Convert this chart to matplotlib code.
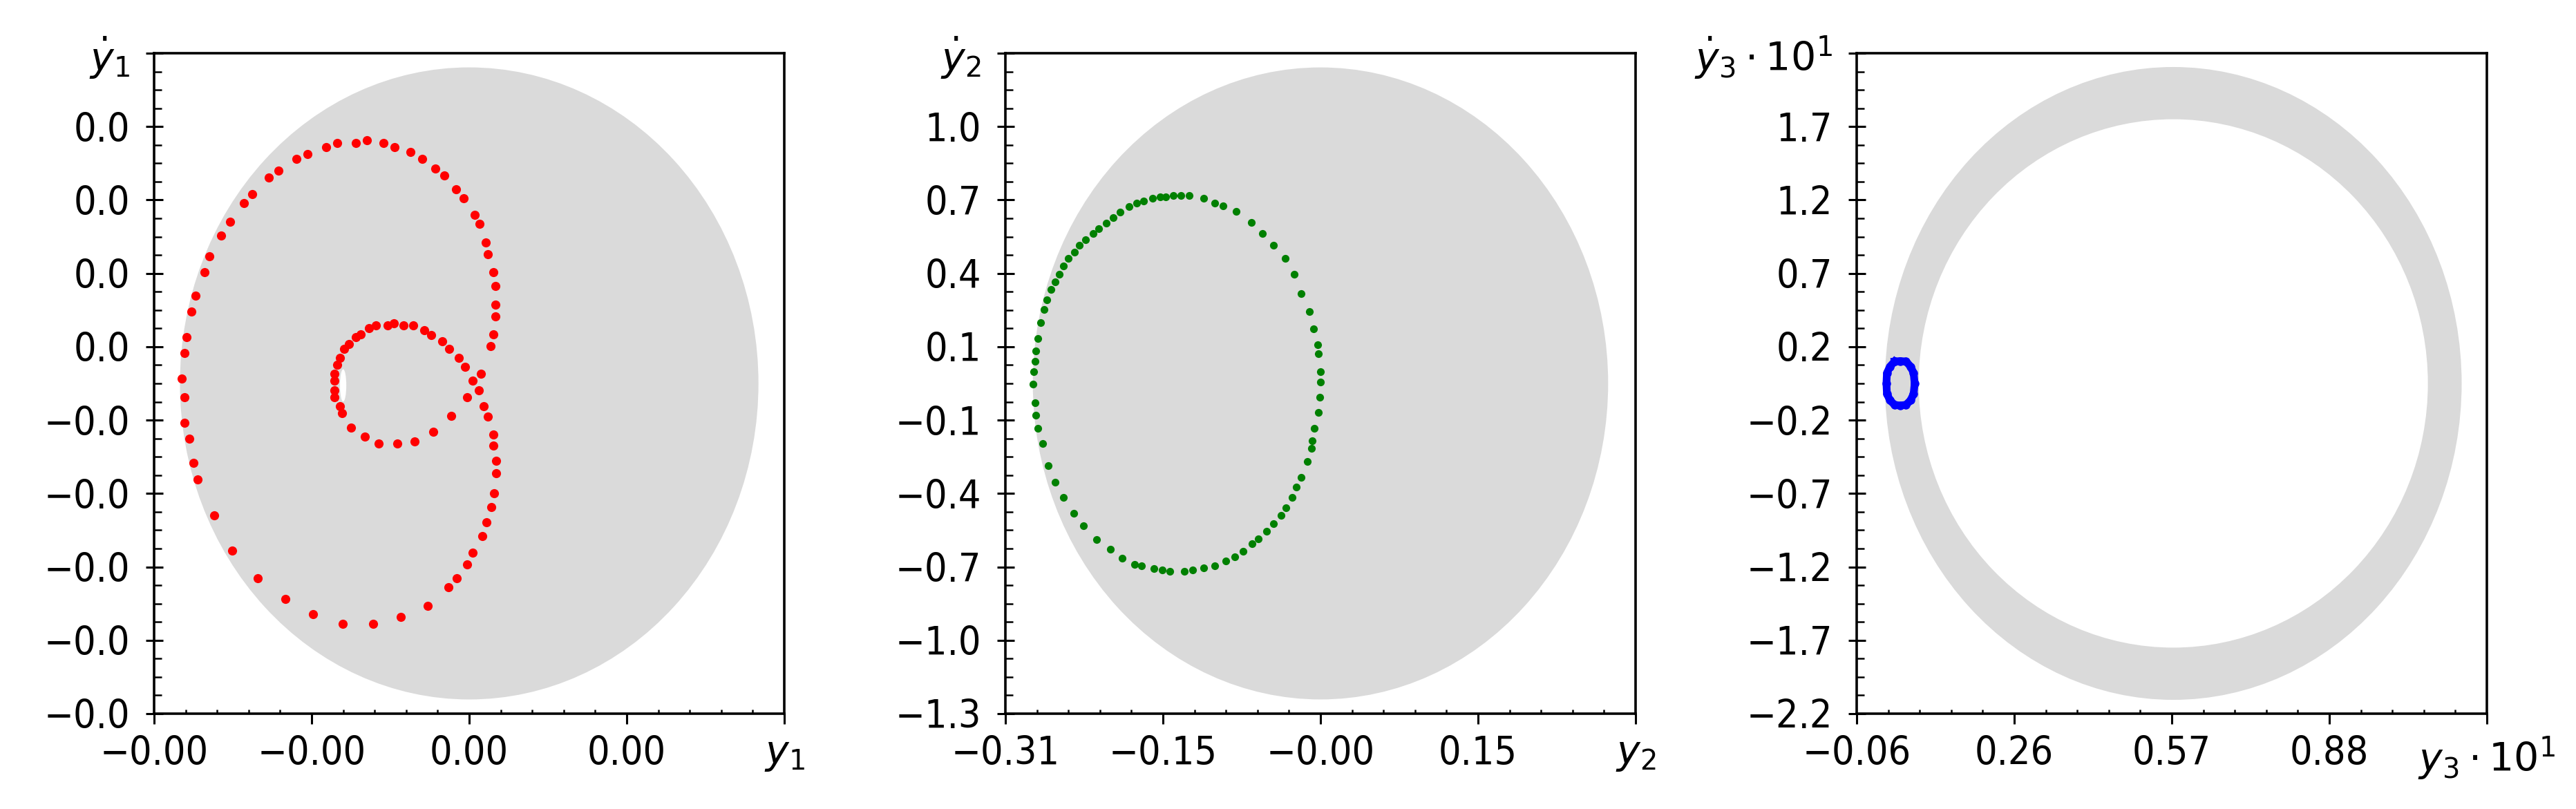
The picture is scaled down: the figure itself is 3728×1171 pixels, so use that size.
import numpy as np
import matplotlib.pyplot as plt
from matplotlib.patches import Ellipse
from matplotlib.ticker import AutoMinorLocator

# ---- panel 1: red trajectory (arbitrary units, axis spans -1..1) ----
red_x = [-0.912, -0.904, -0.904, -0.889, -0.904, -0.897, -0.882, -0.868, -0.839, -0.825,
         -0.788, -0.759, -0.716, -0.688, -0.637, -0.606, -0.549, -0.513, -0.455, -0.418,
         -0.360, -0.324, -0.273, -0.237, -0.187, -0.150, -0.108, -0.078, -0.041, -0.018,
         0.017, 0.032, 0.053, 0.060, 0.076, 0.083, 0.083, 0.083, 0.076, 0.067,
         0.038, 0.010, 0.031, -0.006, 0.047, 0.060, 0.076, 0.076,
         -0.013, -0.034, -0.063, -0.085, -0.120, -0.142, -0.178, -0.208, -0.238, -0.259,
         -0.295, -0.317, -0.345, -0.360, -0.382, -0.397, -0.410, -0.418, -0.427, -0.427,
         -0.427, -0.427, -0.410, -0.403, -0.374, -0.331, -0.288, -0.229, -0.173, -0.113,
         -0.056,
         -0.874, -0.861, -0.809, -0.752, -0.670, -0.583, -0.495, -0.401, -0.304, -0.217,
         -0.132, -0.066, -0.039, -0.006, 0.011, 0.041, 0.054, 0.071, 0.078, 0.085, 0.085]
red_y = [0.015, -0.042, -0.119, -0.167, 0.091, 0.140, 0.217, 0.266, 0.336, 0.385,
         0.448, 0.490, 0.546, 0.574, 0.623, 0.644, 0.679, 0.694, 0.715, 0.728,
         0.728, 0.736, 0.728, 0.715, 0.701, 0.679, 0.651, 0.630, 0.588, 0.560,
         0.511, 0.483, 0.427, 0.392, 0.336, 0.294, 0.238, 0.203, 0.148, 0.112,
         0.029, 0.008, -0.021, -0.042, -0.069, -0.100, -0.154, -0.188,
         0.050, 0.077, 0.105, 0.127, 0.147, 0.161, 0.175, 0.175, 0.183, 0.175,
         0.175, 0.168, 0.148, 0.140, 0.119, 0.105, 0.077, 0.056, 0.029, 0.008,
         -0.020, -0.042, -0.069, -0.091, -0.133, -0.161, -0.182, -0.182, -0.175, -0.147,
         -0.098,
         -0.240, -0.290, -0.400, -0.506, -0.589, -0.653, -0.699, -0.729, -0.729, -0.707,
         -0.673, -0.617, -0.590, -0.548, -0.512, -0.463, -0.421, -0.374, -0.333, -0.273, -0.234]

# ---- panel 2: green trajectory ----
green_x = [-0.145, -0.137, -0.129, -0.115, -0.104, -0.096, -0.083, -0.068, -0.057, -0.046,
           -0.035, -0.026, -0.019, -0.011, -0.007, -0.003, -0.002, 0.000, 0.000, -0.001,
           -0.002, -0.006, -0.008, -0.009, -0.013, -0.019, -0.024, -0.028, -0.034, -0.039,
           -0.046, -0.053, -0.061, -0.067, -0.076, -0.084, -0.093, -0.104, -0.115, -0.126,
           -0.134, -0.148, -0.156, -0.164, -0.176, -0.183, -0.195, -0.207, -0.220, -0.233,
           -0.243, -0.253, -0.261, -0.268, -0.273, -0.278, -0.280, -0.281, -0.283, -0.282,
           -0.281, -0.280, -0.278, -0.275, -0.272, -0.269, -0.265, -0.261, -0.257, -0.253,
           -0.248, -0.242, -0.237, -0.231, -0.224, -0.218, -0.211, -0.204, -0.197, -0.188,
           -0.181, -0.174, -0.165, -0.158, -0.152]
green_y = [0.739, 0.739, 0.739, 0.729, 0.711, 0.699, 0.678, 0.634, 0.589, 0.543,
           0.492, 0.431, 0.354, 0.283, 0.215, 0.152, 0.117, 0.047, 0.006, -0.055,
           -0.115, -0.176, -0.227, -0.257, -0.308, -0.369, -0.409, -0.450, -0.490, -0.520,
           -0.551, -0.581, -0.612, -0.632, -0.662, -0.682, -0.699, -0.717, -0.727, -0.735,
           -0.739, -0.739, -0.735, -0.729, -0.717, -0.713, -0.689, -0.652, -0.616, -0.561,
           -0.510, -0.450, -0.389, -0.324, -0.237, -0.176, -0.126, -0.075, -0.004, 0.047,
           0.087, 0.128, 0.178, 0.239, 0.290, 0.330, 0.371, 0.401, 0.431, 0.462,
           0.492, 0.518, 0.543, 0.567, 0.589, 0.610, 0.630, 0.654, 0.674, 0.695,
           0.709, 0.719, 0.729, 0.733, 0.735]

# ---- panel 3: blue trajectory ----
blue_x = [0.015, 0.026, 0.038, 0.047, 0.053, 0.055, 0.053, 0.047, 0.038, 0.026,
          0.015, 0.006, 0.000, -0.001, 0.000, 0.006, 0.015]
blue_y = [0.146, 0.149, 0.146, 0.112, 0.069, 0.000, -0.069, -0.112, -0.142, -0.148,
          -0.142, -0.112, -0.069, 0.000, 0.069, 0.112, 0.146]

# grey clouds: (centre x, centre y, half width, half height)
cloud1 = (0.0, 0.0, 0.918, 0.957)
cloud1_hole = (-0.400, -0.006, 0.010, 0.049)
cloud2 = (0.0, 0.0, 0.283, 1.244)
cloud3_outer = (0.568, 0.0, 0.572, 2.108)
cloud3_inner = (0.568, 0.0, 0.505, 1.760)

# axis limits and tick labels
xlim1, ylim1 = (-1, 1), (-1, 1)
xlab1 = ['\u22120.00', '\u22120.00', '0.00', '0.00', r'$y_1$']
ylab1 = ['\u22120.0'] * 5 + ['0.0'] * 4 + [r'$\dot{y}_1$']
xlim2, ylim2 = (-0.31, 0.31), (-1.3, 1.3)
xlab2 = ['\u22120.31', '\u22120.15', '\u22120.00', '0.15', r'$y_2$']
ylab2 = ['\u22121.3', '\u22121.0', '\u22120.7', '\u22120.4', '\u22120.1',
         '0.1', '0.4', '0.7', '1.0', r'$\dot{y}_2$']
xlim3, ylim3 = (-0.06, 1.19), (-2.2, 2.2)
xlab3 = ['\u22120.06', '0.26', '0.57', '0.88', r'$y_3\cdot10^1$']
ylab3 = ['\u22122.2', '\u22121.7', '\u22121.2', '\u22120.7', '\u22120.2',
         '0.2', '0.7', '1.2', '1.7', r'$\dot{y}_3\cdot10^1$']

GREY = '#dadada'
FS = 41

fig = plt.figure(figsize=(37.28, 11.71), dpi=100)
lefts = [0.05982, 0.39029, 0.72076]
axs = [fig.add_axes([l, 0.11785, 0.24464, 0.81640]) for l in lefts]


def style(ax, xlim, ylim, xlab, ylab):
    ax.set_xlim(xlim)
    ax.set_ylim(ylim)
    ax.set_xticks(np.linspace(xlim[0], xlim[1], len(xlab)))
    ax.set_xticklabels(xlab, fontsize=FS, fontstretch='condensed')
    ax.set_yticks(np.linspace(ylim[0], ylim[1], len(ylab)))
    ax.set_yticklabels(ylab, fontsize=FS, fontstretch='condensed')
    ax.xaxis.set_minor_locator(AutoMinorLocator(5))
    ax.yaxis.set_minor_locator(AutoMinorLocator(4))
    ax.tick_params(axis='x', which='major', direction='out', length=11, width=2.2, pad=11)
    ax.tick_params(axis='x', which='minor', direction='in', length=4, width=1.8)
    ax.tick_params(axis='y', which='major', direction='inout', length=18, width=2.2, pad=16)
    ax.tick_params(axis='y', which='minor', direction='in', length=8, width=1.8)
    for s in ax.spines.values():
        s.set_linewidth(2.6)


def add_cloud(ax, c, color):
    ax.add_patch(Ellipse((c[0], c[1]), 2 * c[2], 2 * c[3], facecolor=color,
                         edgecolor='none', zorder=1))


ax = axs[0]
add_cloud(ax, cloud1, GREY)
add_cloud(ax, cloud1_hole, 'white')
ax.scatter(red_x, red_y, s=90, color='red', zorder=3, linewidths=0)
style(ax, xlim1, ylim1, xlab1, ylab1)

ax = axs[1]
add_cloud(ax, cloud2, GREY)
ax.scatter(green_x, green_y, s=65, color='green', zorder=3, linewidths=0)
style(ax, xlim2, ylim2, xlab2, ylab2)

ax = axs[2]
add_cloud(ax, cloud3_outer, GREY)
add_cloud(ax, cloud3_inner, 'white')
ax.plot(blue_x, blue_y, '-o', color='blue', lw=8, ms=8, zorder=3)
style(ax, xlim3, ylim3, xlab3, ylab3)

fig.savefig('out.png', dpi=100)
